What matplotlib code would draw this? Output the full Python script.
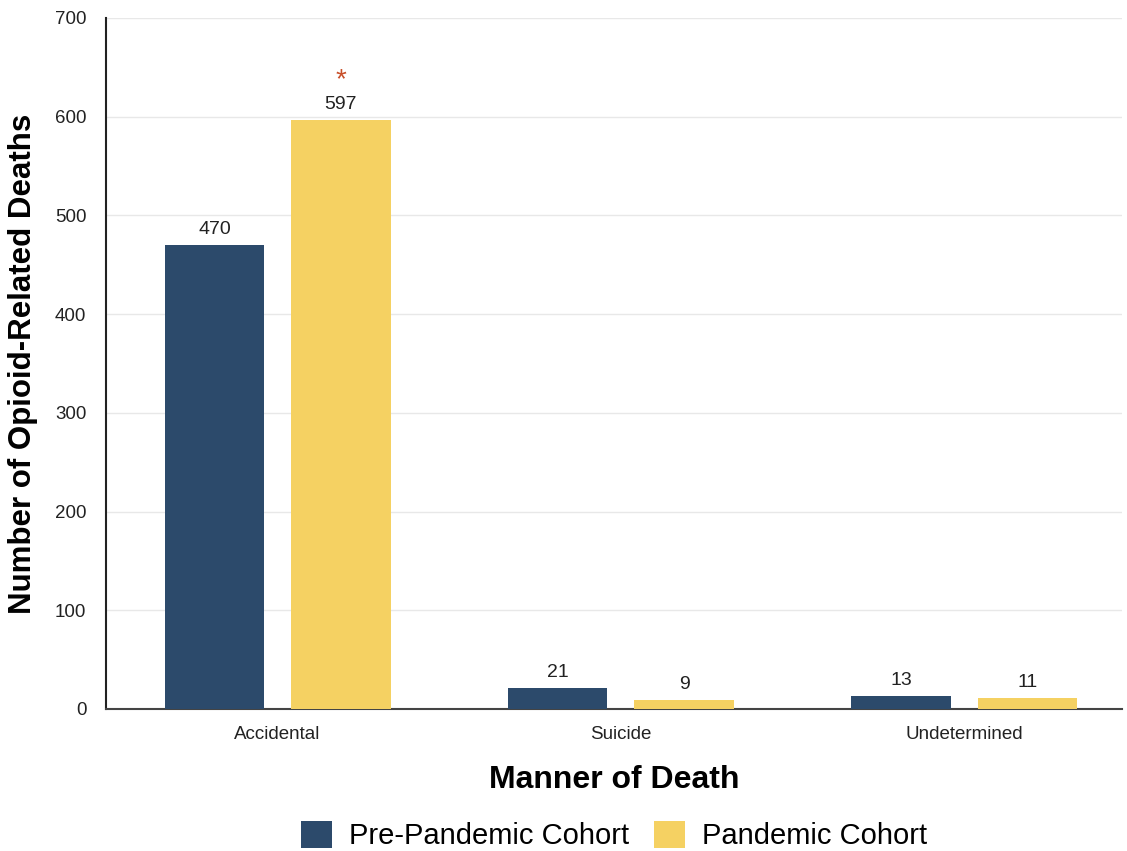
import numpy as np
import matplotlib
matplotlib.use('Agg')
import matplotlib.pyplot as plt

plt.rcParams['font.family'] = ['Liberation Sans', 'DejaVu Sans']

categories = ['Accidental', 'Suicide', 'Undetermined']
pre_pandemic = [470, 21, 13]
pandemic = [597, 9, 11]
series_names = ['Pre-Pandemic Cohort', 'Pandemic Cohort']
significant = [True, False, False]

navy = '#2c4a6b'
yellow = '#f5d162'

fig = plt.figure(figsize=(11.27, 8.51), dpi=100)
ax = fig.add_axes([0.094, 0.1669, 0.9016, 0.812])

x = np.arange(len(categories))
w = 0.29
off = 0.184
b1 = ax.bar(x - off, pre_pandemic, w, color=navy, label=series_names[0], zorder=3)
b2 = ax.bar(x + off, pandemic, w, color=yellow, label=series_names[1], zorder=3)

for bars in (b1, b2):
    for r in bars:
        ax.annotate(str(int(r.get_height())), (r.get_x() + r.get_width() / 2, r.get_height()),
                    xytext=(0, 5), textcoords='offset points', ha='center', va='bottom',
                    fontsize=14, color='#222222')

for i, s in enumerate(significant):
    if s:
        r = b2[i]
        ax.annotate('*', (r.get_x() + r.get_width() / 2, r.get_height()),
                    xytext=(0, 19), textcoords='offset points', ha='center', va='bottom',
                    fontsize=20, color='#c8502a')

ax.set_xlim(-0.5, 2.46)
ax.set_ylim(0, 700)
ax.set_yticks(range(0, 701, 100))
ax.set_xticks(x)
ax.set_xticklabels(categories)
ax.tick_params(axis='both', length=0, labelsize=13.5, colors='#222222')
ax.tick_params(axis='y', pad=14)
ax.tick_params(axis='x', pad=12)
ax.yaxis.grid(True, color='#e8e8e8', linewidth=1, zorder=0)
for s in ['top', 'right']:
    ax.spines[s].set_visible(False)
ax.spines['left'].set_color('#222222')
ax.spines['bottom'].set_color('#444444')
ax.spines['left'].set_linewidth(1.5)
ax.spines['bottom'].set_linewidth(1.5)

ax.set_ylabel('Number of Opioid-Related Deaths', fontsize=22.5, fontweight='bold', labelpad=12)
ax.set_xlabel('Manner of Death', fontsize=23, fontweight='bold', labelpad=16)

fig.legend(handles=[b1, b2], loc='center', bbox_to_anchor=(0.545, 0.018), ncol=2, frameon=False,
           fontsize=21, handlelength=1.05, handleheight=1.05, columnspacing=0.85, handletextpad=0.6)

fig.savefig('out.png', dpi=100)
